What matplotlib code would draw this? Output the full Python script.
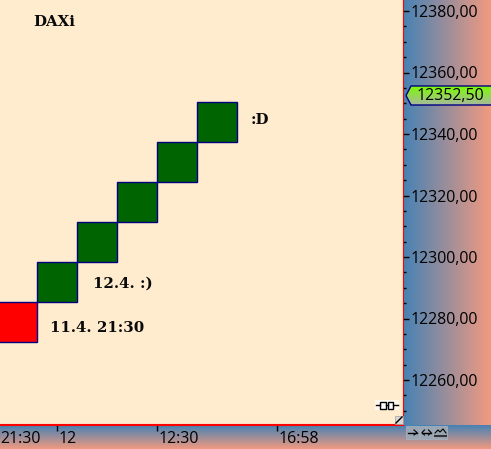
import numpy as np
import matplotlib
matplotlib.use('Agg')
from matplotlib import pyplot as plt
from matplotlib.colors import LinearSegmentedColormap
from matplotlib.patches import Polygon, Rectangle
from matplotlib.transforms import ScaledTranslation

# renko boxes
box_index = [0, 1, 2, 3, 4, 5]
box_low = [12272.5, 12285.5, 12298.5, 12311.5, 12324.5, 12337.5]
box_high = [12285.5, 12298.5, 12311.5, 12324.5, 12337.5, 12350.5]
box_color = ['#ff0000', '#006400', '#006400', '#006400', '#006400', '#006400']

price_ticks = [12260, 12280, 12300, 12320, 12340, 12360, 12380]
price_labels = ['12260,00', '12280,00', '12300,00', '12320,00', '12340,00', '12360,00', '12380,00']
time_ticks = [-0.425, 1, 3.5, 6.5]
time_labels = ['21:30', '12', '12:30', '16:58']
last_price = '12352,50'

W, H = 491, 449
BLUE = '#4682b4'
SALMON = '#f29a80'
grad = LinearSegmentedColormap.from_list('g', [BLUE, SALMON])
tag_grad = LinearSegmentedColormap.from_list('t', ['#7cfc00', '#a9b8a0'])

fig = plt.figure(figsize=(W / 100, H / 100), dpi=100)

# whole figure in pixels, for the gradients and small icons
bg = fig.add_axes([0, 0, 1, 1], zorder=0)
bg.set_xlim(0, W)
bg.set_ylim(H, 0)
bg.axis('off')
ramp = np.linspace(0, 1, 256)
bg.imshow(ramp[:, None], cmap=grad, extent=[0, W, H, 425], aspect='auto', zorder=1)
bg.imshow(ramp[None, :], cmap=grad, extent=[403, W, 425, 0], aspect='auto', zorder=1)
bg.set_xlim(0, W)
bg.set_ylim(H, 0)

ax = fig.add_axes([0, (H - 425) / H, 403 / W, 425 / H], zorder=1)
ax.set_facecolor('#ffebcd')
px_per_box = 40
ax.set_xlim(-17 / px_per_box, (403 - 17) / px_per_box)
ax.set_ylim(12380 - (425 - 11) / 3.075, 12380 + 11 / 3.075)

ax.bar(box_index, np.array(box_high) - np.array(box_low), bottom=box_low, width=1,
       color=box_color, edgecolor='#000080', linewidth=1)

ax.yaxis.tick_right()
ax.set_yticks(price_ticks)
ax.set_yticklabels(price_labels)
ax.set_yticks(np.arange(12250, 12385, 5), minor=True)
ax.tick_params(axis='y', which='major', length=4, width=1, pad=1.5, labelsize=11.4, colors='black')
ax.tick_params(axis='y', which='minor', length=2, width=1, colors='black')
ax.set_xticks(time_ticks)
ax.set_xticklabels(time_labels, ha='left')
ax.tick_params(axis='x', length=4, width=1, pad=0.5, labelsize=11.4, colors='black')
for i, lab in enumerate(ax.get_xticklabels()):
    if i > 0:
        lab.set_transform(lab.get_transform() + ScaledTranslation(2 / 100, 0, fig.dpi_scale_trans))
ax.xaxis.get_major_ticks()[0].tick1line.set_visible(False)
for lab in ax.get_xticklabels() + ax.get_yticklabels():
    lab.set_family('Open Sans')

for side in ['top', 'left']:
    ax.spines[side].set_visible(False)
ax.spines['right'].set_color('#ff0000')
ax.spines['bottom'].set_color('#ff0000')
ax.spines['bottom'].set_linewidth(1.5)

# overlay for tag, notes and icons
top = fig.add_axes([0, 0, 1, 1], zorder=2)
top.set_xlim(0, W)
top.set_ylim(H, 0)
top.axis('off')
top.patch.set_alpha(0)

note = dict(family='DejaVu Serif', fontweight='bold', fontsize=10.8, color='#0a0a0a', va='center')
top.text(33, 22, 'DAXi', **note)
top.text(251, 120, ':D', **note)
top.text(93, 284, '12.4. :)', **note)
top.text(50, 328, '11.4. 21:30', **note)

# last price tag
tag = Polygon([(406, 95.5), (411, 86), (W + 2, 86), (W + 2, 105), (411, 105)], closed=True,
              facecolor='none', edgecolor='#000080', linewidth=1, zorder=4)
top.add_patch(tag)
im = top.imshow(ramp[:, None], cmap=tag_grad, extent=[405, W + 2, 105, 86], aspect='auto', zorder=3)
im.set_clip_path(tag)
top.text(417, 95.5, last_price, family='Open Sans', fontsize=11.4, color='black', va='center', zorder=5)

# connector icon
top.add_patch(Rectangle((375, 400), 24, 10, facecolor='#fff8ee', edgecolor='none'))
top.plot([376, 380], [405, 405], color='black', lw=1)
top.plot([393, 398], [405, 405], color='black', lw=1)
top.plot([386, 388], [405, 405], color='black', lw=1)
top.add_patch(Rectangle((380, 401.5), 6, 7, facecolor='white', edgecolor='black', lw=1))
top.add_patch(Rectangle((388, 401.5), 5, 7, facecolor='white', edgecolor='black', lw=1))

# resize corner
top.add_patch(Rectangle((395, 416), 8, 8, facecolor='#d8d8d8', edgecolor='#a0a0a0', lw=0.5))
top.plot([396, 402], [423, 417], color='black', lw=1)

# toolbar buttons
for x0 in [406, 420, 434]:
    top.add_patch(Rectangle((x0, 426), 13, 13, facecolor='#9aa6b4', edgecolor='#aab4c0', lw=0.5))
top.plot([408, 417], [432.5, 432.5], color='black', lw=1)
top.plot([414, 417, 414], [430, 432.5, 435], color='black', lw=0.8)
top.plot([422, 431], [432.5, 432.5], color='black', lw=1)
top.plot([424.5, 422, 424.5], [430, 432.5, 435], color='black', lw=0.8)
top.plot([428.5, 431, 428.5], [430, 432.5, 435], color='black', lw=0.8)
top.plot([435, 438, 440, 443, 446], [433, 430, 432, 429, 433], color='black', lw=0.8)
top.plot([435, 446], [436, 436], color='#333333', lw=1.5)

top.set_xlim(0, W)
top.set_ylim(H, 0)

fig.savefig('out.png', dpi=100)
